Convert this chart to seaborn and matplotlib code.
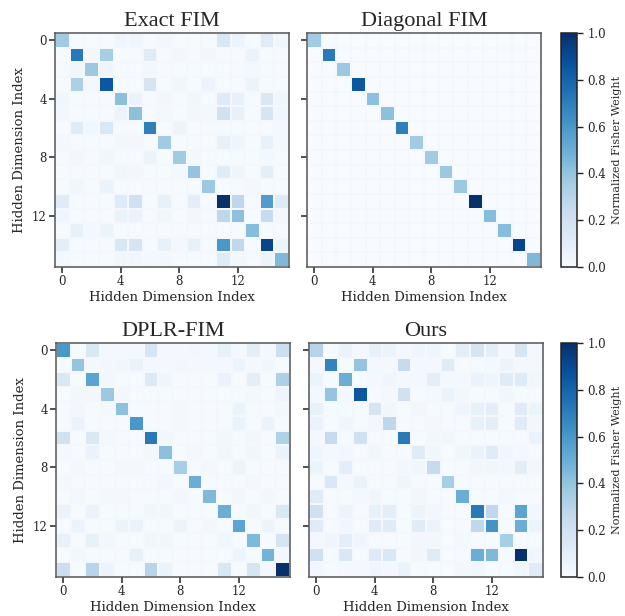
import numpy as np
import matplotlib
matplotlib.use('Agg')
import matplotlib.pyplot as plt
import seaborn as sns

sns.set_style('ticks')
plt.rcParams['font.family'] = 'serif'
plt.rcParams['font.serif'] = ['DejaVu Serif']

# 16x16 normalized Fisher weights
exact_fim = [
    [0.37, 0.01, 0.01, 0.01, 0.05, 0.05, 0.01, 0.03, 0.01, 0.01, 0.01, 0.15, 0.06, 0.01, 0.12, 0.04],
    [0.01, 0.72, 0.03, 0.35, 0.01, 0.01, 0.12, 0.01, 0.03, 0.01, 0.03, 0.01, 0.01, 0.07, 0.01, 0.01],
    [0.01, 0.04, 0.38, 0.05, 0.01, 0.01, 0.03, 0.01, 0.01, 0.01, 0.01, 0.01, 0.01, 0.02, 0.01, 0.01],
    [0.01, 0.33, 0.02, 0.85, 0.01, 0.01, 0.17, 0.01, 0.04, 0.01, 0.06, 0.01, 0.01, 0.06, 0.01, 0.01],
    [0.04, 0.01, 0.01, 0.01, 0.42, 0.07, 0.01, 0.03, 0.01, 0.04, 0.01, 0.13, 0.08, 0.01, 0.15, 0.04],
    [0.03, 0.01, 0.01, 0.01, 0.06, 0.42, 0.01, 0.02, 0.01, 0.03, 0.02, 0.20, 0.08, 0.01, 0.17, 0.04],
    [0.01, 0.12, 0.04, 0.15, 0.01, 0.01, 0.70, 0.01, 0.06, 0.01, 0.01, 0.01, 0.01, 0.01, 0.01, 0.02],
    [0.02, 0.01, 0.01, 0.01, 0.03, 0.03, 0.01, 0.37, 0.01, 0.01, 0.01, 0.08, 0.05, 0.01, 0.08, 0.02],
    [0.01, 0.03, 0.01, 0.04, 0.01, 0.01, 0.06, 0.01, 0.37, 0.02, 0.01, 0.01, 0.01, 0.01, 0.02, 0.01],
    [0.01, 0.01, 0.01, 0.01, 0.04, 0.03, 0.01, 0.01, 0.02, 0.40, 0.01, 0.12, 0.05, 0.01, 0.10, 0.01],
    [0.01, 0.04, 0.01, 0.07, 0.01, 0.01, 0.01, 0.01, 0.01, 0.01, 0.38, 0.01, 0.01, 0.02, 0.01, 0.01],
    [0.12, 0.01, 0.01, 0.01, 0.13, 0.20, 0.01, 0.08, 0.01, 0.10, 0.01, 1.00, 0.28, 0.01, 0.58, 0.13],
    [0.05, 0.01, 0.01, 0.01, 0.07, 0.07, 0.01, 0.04, 0.01, 0.03, 0.01, 0.28, 0.42, 0.01, 0.25, 0.03],
    [0.01, 0.08, 0.02, 0.06, 0.01, 0.01, 0.01, 0.01, 0.01, 0.01, 0.01, 0.01, 0.01, 0.43, 0.01, 0.01],
    [0.10, 0.01, 0.01, 0.01, 0.15, 0.17, 0.01, 0.08, 0.02, 0.08, 0.01, 0.60, 0.27, 0.01, 0.92, 0.06],
    [0.02, 0.01, 0.01, 0.01, 0.04, 0.04, 0.02, 0.03, 0.01, 0.01, 0.01, 0.12, 0.03, 0.01, 0.06, 0.45],
]

diag_values = [0.37, 0.72, 0.38, 0.85, 0.42, 0.42, 0.70, 0.37,
               0.37, 0.38, 0.38, 1.00, 0.43, 0.43, 0.92, 0.45]

dplr_fim = [
    [0.60, 0.01, 0.15, 0.02, 0.02, 0.02, 0.17, 0.02, 0.02, 0.03, 0.02, 0.08, 0.02, 0.10, 0.02, 0.22],
    [0.01, 0.40, 0.02, 0.03, 0.04, 0.07, 0.02, 0.02, 0.03, 0.02, 0.02, 0.02, 0.06, 0.02, 0.04, 0.01],
    [0.15, 0.01, 0.55, 0.03, 0.01, 0.01, 0.14, 0.05, 0.01, 0.01, 0.01, 0.07, 0.01, 0.10, 0.01, 0.33],
    [0.01, 0.03, 0.03, 0.38, 0.03, 0.01, 0.01, 0.01, 0.01, 0.01, 0.01, 0.01, 0.01, 0.02, 0.01, 0.05],
    [0.01, 0.03, 0.01, 0.02, 0.42, 0.01, 0.01, 0.01, 0.02, 0.01, 0.01, 0.01, 0.06, 0.01, 0.01, 0.02],
    [0.01, 0.07, 0.01, 0.01, 0.01, 0.60, 0.01, 0.01, 0.02, 0.01, 0.01, 0.01, 0.07, 0.01, 0.07, 0.01],
    [0.20, 0.01, 0.15, 0.02, 0.01, 0.01, 0.72, 0.03, 0.01, 0.01, 0.01, 0.03, 0.01, 0.03, 0.01, 0.32],
    [0.02, 0.01, 0.07, 0.01, 0.01, 0.01, 0.03, 0.42, 0.01, 0.02, 0.01, 0.04, 0.01, 0.04, 0.01, 0.07],
    [0.01, 0.02, 0.01, 0.01, 0.02, 0.02, 0.01, 0.01, 0.35, 0.01, 0.02, 0.01, 0.06, 0.01, 0.01, 0.01],
    [0.02, 0.01, 0.01, 0.01, 0.01, 0.01, 0.01, 0.03, 0.01, 0.50, 0.01, 0.01, 0.01, 0.02, 0.01, 0.01],
    [0.01, 0.02, 0.01, 0.02, 0.02, 0.01, 0.01, 0.01, 0.03, 0.01, 0.45, 0.01, 0.03, 0.01, 0.03, 0.01],
    [0.07, 0.01, 0.07, 0.01, 0.01, 0.01, 0.04, 0.04, 0.01, 0.01, 0.01, 0.50, 0.01, 0.04, 0.01, 0.15],
    [0.01, 0.07, 0.01, 0.01, 0.06, 0.07, 0.01, 0.01, 0.06, 0.01, 0.03, 0.01, 0.55, 0.01, 0.06, 0.01],
    [0.08, 0.01, 0.08, 0.03, 0.01, 0.01, 0.04, 0.04, 0.01, 0.01, 0.01, 0.04, 0.01, 0.45, 0.01, 0.17],
    [0.01, 0.03, 0.01, 0.01, 0.01, 0.08, 0.01, 0.01, 0.01, 0.01, 0.01, 0.01, 0.06, 0.01, 0.48, 0.02],
    [0.22, 0.01, 0.30, 0.06, 0.01, 0.01, 0.30, 0.07, 0.01, 0.01, 0.01, 0.15, 0.01, 0.17, 0.02, 1.00],
]

ours = [
    [0.30, 0.01, 0.07, 0.02, 0.08, 0.06, 0.02, 0.05, 0.05, 0.01, 0.10, 0.17, 0.10, 0.02, 0.17, 0.02],
    [0.02, 0.68, 0.01, 0.40, 0.02, 0.02, 0.25, 0.02, 0.02, 0.12, 0.01, 0.01, 0.02, 0.06, 0.02, 0.02],
    [0.06, 0.01, 0.50, 0.01, 0.02, 0.05, 0.02, 0.02, 0.10, 0.02, 0.02, 0.07, 0.05, 0.12, 0.13, 0.04],
    [0.02, 0.40, 0.02, 0.85, 0.01, 0.02, 0.20, 0.01, 0.02, 0.07, 0.03, 0.01, 0.01, 0.04, 0.01, 0.01],
    [0.08, 0.01, 0.01, 0.01, 0.17, 0.04, 0.01, 0.03, 0.01, 0.01, 0.05, 0.08, 0.10, 0.01, 0.12, 0.06],
    [0.07, 0.01, 0.05, 0.01, 0.03, 0.28, 0.01, 0.01, 0.02, 0.01, 0.01, 0.08, 0.10, 0.01, 0.12, 0.03],
    [0.02, 0.25, 0.01, 0.20, 0.01, 0.01, 0.72, 0.01, 0.03, 0.04, 0.01, 0.01, 0.01, 0.01, 0.01, 0.07],
    [0.05, 0.02, 0.03, 0.01, 0.04, 0.01, 0.01, 0.12, 0.04, 0.01, 0.04, 0.07, 0.12, 0.04, 0.02, 0.01],
    [0.06, 0.01, 0.10, 0.01, 0.01, 0.01, 0.03, 0.04, 0.25, 0.01, 0.01, 0.03, 0.04, 0.03, 0.10, 0.03],
    [0.01, 0.15, 0.02, 0.07, 0.01, 0.01, 0.05, 0.01, 0.01, 0.35, 0.01, 0.01, 0.01, 0.01, 0.01, 0.01],
    [0.12, 0.01, 0.01, 0.02, 0.05, 0.01, 0.01, 0.03, 0.01, 0.01, 0.50, 0.01, 0.01, 0.02, 0.01, 0.01],
    [0.20, 0.01, 0.06, 0.01, 0.08, 0.10, 0.01, 0.06, 0.03, 0.01, 0.01, 0.72, 0.27, 0.01, 0.55, 0.03],
    [0.12, 0.01, 0.04, 0.01, 0.12, 0.12, 0.01, 0.12, 0.06, 0.01, 0.01, 0.27, 0.62, 0.01, 0.50, 0.06],
    [0.02, 0.05, 0.10, 0.05, 0.01, 0.01, 0.01, 0.03, 0.03, 0.01, 0.02, 0.01, 0.01, 0.35, 0.01, 0.01],
    [0.20, 0.01, 0.15, 0.01, 0.13, 0.15, 0.01, 0.03, 0.12, 0.01, 0.01, 0.50, 0.45, 0.01, 1.00, 0.04],
    [0.03, 0.01, 0.02, 0.02, 0.05, 0.03, 0.07, 0.01, 0.01, 0.01, 0.03, 0.04, 0.01, 0.01, 0.04, 0.12],
]

titles = ['Exact FIM', 'Diagonal FIM', 'DPLR-FIM', 'Ours']
tick_pos = [0, 4, 8, 12]
matrices = [np.array(exact_fim), np.diag(diag_values), np.array(dplr_fim), np.array(ours)]

W, H = 625, 616
fig = plt.figure(figsize=(W / 100, H / 100), dpi=100)


def px_axes(x0, y0, w, h):
    return fig.add_axes([x0 / W, 1 - (y0 + h) / H, w / W, h / H])


boxes = [(55, 33), (307, 33), (56, 343), (309, 343)]
cbar_boxes = [(561, 33), (561, 343)]
size = 234

for k, (mat, title) in enumerate(zip(matrices, titles)):
    ax = px_axes(boxes[k][0], boxes[k][1], size, size)
    right = k % 2 == 1
    cax = px_axes(cbar_boxes[k // 2][0], cbar_boxes[k // 2][1], 16, size) if right else None
    sns.heatmap(mat, ax=ax, cmap='Blues', vmin=0, vmax=1,
                cbar=right, cbar_ax=cax,
                xticklabels=False, yticklabels=False,
                linewidths=0.25, linecolor='#f4f8fd')
    ax.set_xticks([p + 0.5 for p in tick_pos])
    ax.set_xticklabels([str(p) for p in tick_pos], fontsize=8.5, rotation=0)
    ax.set_yticks([p + 0.5 for p in tick_pos])
    if right:
        ax.set_yticklabels([])
    else:
        ax.set_yticklabels([str(p) for p in tick_pos], fontsize=8.5, rotation=0)
        ax.set_ylabel('Hidden Dimension Index', fontsize=9.5)
    ax.set_xlabel('Hidden Dimension Index', fontsize=9.5, labelpad=2)
    ax.set_title(title, fontsize=16, family='Liberation Serif', pad=5)
    ax.tick_params(length=4, width=1.1, color='#222222', pad=2)
    for s in ax.spines.values():
        s.set_visible(True)
        s.set_color('#555555')
        s.set_linewidth(1.1)
    if right:
        cb = ax.collections[0].colorbar
        cb.set_ticks([0.0, 0.2, 0.4, 0.6, 0.8, 1.0])
        cb.ax.tick_params(labelsize=8.5, length=4, width=1, color='#222222')
        cb.outline.set_visible(True)
        cb.outline.set_edgecolor('#222222')
        cb.outline.set_linewidth(1.1)
        cb.set_label('Normalized Fisher Weight', fontsize=8)

fig.savefig('out.png', dpi=100)
